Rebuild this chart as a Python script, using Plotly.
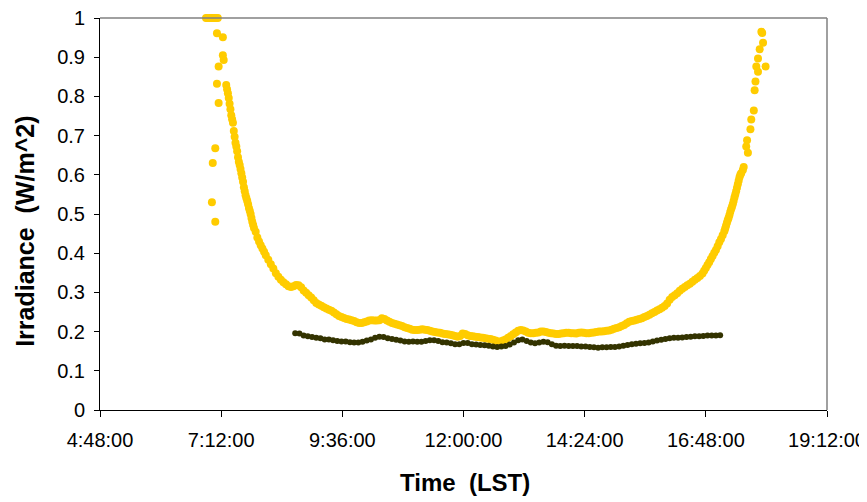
import plotly.graph_objects as go

# Time in minutes after midnight (LST), irradiance in W/m^2
yellow_min = [414, 416, 418, 420, 421, 422, 422, 424, 425, 425, 426, 427, 427, 428, 429, 429, 434, 434, 435,
              438, 439, 440, 441, 442, 443, 444, 445, 446, 447, 448, 449, 450, 451, 452, 453, 454, 455, 456, 457,
              458, 459, 460, 461, 462, 463, 464, 465, 466, 467, 468, 469, 470, 471, 473, 475, 477, 479, 481, 483,
              485, 488, 491, 494, 497, 500, 503, 506, 509, 512, 515, 518, 521, 524, 527, 530, 533, 536, 539, 542,
              545, 548, 551, 554, 557, 560, 563, 566, 569, 572, 575, 578, 581, 584, 587, 590, 593, 596, 599, 602,
              605, 608, 611, 614, 617, 620, 623, 626, 629, 632, 635, 638, 641, 644, 647, 650, 653, 656, 659, 662,
              665, 668, 671, 674, 677, 680, 683, 686, 689, 692, 695, 698, 701, 704, 707, 710, 713, 716, 719, 722,
              725, 728, 731, 734, 737, 740, 743, 746, 749, 752, 755, 758, 761, 764, 767, 770, 773, 776, 779, 782,
              785, 788, 791, 794, 797, 800, 803, 806, 809, 812, 815, 818, 821, 824, 827, 830, 833, 836, 839, 842,
              845, 848, 851, 854, 857, 860, 863, 866, 869, 872, 875, 878, 881, 884, 887, 890, 893, 896, 899, 902,
              905, 908, 911, 914, 917, 920, 923, 926, 929, 932, 935, 938, 941, 944, 947, 950, 953, 956, 959, 962,
              965, 968, 971, 974, 977, 980, 983, 986, 989, 992, 995, 998, 1001, 1004, 1006, 1008, 1010, 1012, 1014,
              1016, 1018, 1020, 1022, 1024, 1026, 1028, 1030, 1031, 1032, 1033, 1034, 1035, 1036, 1037, 1038, 1039,
              1040, 1041, 1042, 1043, 1044, 1045, 1046, 1047, 1048, 1049, 1050, 1052, 1053,
              1056, 1057, 1058, 1061, 1062, 1065, 1066, 1067, 1068, 1070, 1070, 1072, 1074, 1075, 1076, 1079]
yellow_val = [1.0, 1.0, 1.0, 1.0, 0.53, 1.0, 0.63, 1.0, 0.668, 0.48, 1.0, 0.961, 0.832, 1.0, 0.876, 0.783, 0.951, 0.905, 0.893,
              0.829, 0.818, 0.808, 0.796, 0.781, 0.767, 0.752, 0.742, 0.733, 0.712, 0.697, 0.682, 0.672, 0.66, 0.645, 0.633, 0.625, 0.615, 0.604, 0.593,
              0.582, 0.568, 0.558, 0.548, 0.54, 0.533, 0.525, 0.515, 0.508, 0.5, 0.49, 0.48, 0.472, 0.464, 0.455, 0.44, 0.43, 0.42, 0.412, 0.404,
              0.395, 0.383, 0.372, 0.361, 0.349, 0.34, 0.332, 0.326, 0.321, 0.316, 0.314, 0.316, 0.319, 0.318, 0.313, 0.305, 0.299, 0.293, 0.287, 0.28,
              0.273, 0.269, 0.266, 0.262, 0.259, 0.256, 0.253, 0.249, 0.244, 0.24, 0.237, 0.235, 0.232, 0.231, 0.229, 0.227, 0.224, 0.222, 0.222, 0.224,
              0.226, 0.228, 0.229, 0.228, 0.228, 0.229, 0.234, 0.232, 0.228, 0.225, 0.222, 0.22, 0.218, 0.216, 0.214, 0.211, 0.209, 0.207, 0.205, 0.204,
              0.204, 0.205, 0.206, 0.205, 0.204, 0.202, 0.2, 0.199, 0.198, 0.197, 0.195, 0.194, 0.193, 0.192, 0.191, 0.189, 0.187, 0.189, 0.195, 0.194,
              0.191, 0.189, 0.188, 0.187, 0.186, 0.185, 0.184, 0.183, 0.182, 0.181, 0.179, 0.177, 0.175, 0.175, 0.177, 0.18, 0.184, 0.188, 0.193, 0.198,
              0.202, 0.204, 0.203, 0.2, 0.197, 0.196, 0.196, 0.197, 0.198, 0.2, 0.2, 0.199, 0.197, 0.196, 0.195, 0.194, 0.194, 0.195, 0.196, 0.197,
              0.197, 0.196, 0.196, 0.195, 0.197, 0.198, 0.197, 0.196, 0.196, 0.197, 0.198, 0.199, 0.2, 0.2, 0.201, 0.202, 0.203, 0.205, 0.207, 0.209,
              0.211, 0.214, 0.217, 0.221, 0.225, 0.227, 0.228, 0.23, 0.232, 0.234, 0.237, 0.24, 0.243, 0.247, 0.25, 0.254, 0.257, 0.261, 0.265, 0.272,
              0.281, 0.288, 0.293, 0.298, 0.304, 0.309, 0.314, 0.318, 0.322, 0.327, 0.332, 0.337, 0.342, 0.348, 0.355, 0.362, 0.37, 0.377, 0.385,
              0.393, 0.401, 0.408, 0.418, 0.428, 0.436, 0.446, 0.456, 0.463, 0.47, 0.477, 0.484, 0.49, 0.497, 0.505, 0.512, 0.518,
              0.525, 0.533, 0.542, 0.55, 0.558, 0.567, 0.576, 0.585, 0.594, 0.6, 0.604, 0.612, 0.62,
              0.672, 0.688, 0.656, 0.716, 0.741, 0.764, 0.816, 0.838, 0.876, 0.863, 0.897, 0.92, 0.965, 0.962, 0.937, 0.876]

dark_min = list(range(520, 1030, 5))
dark_val = [0.196, 0.195, 0.19, 0.188, 0.186, 0.184, 0.183, 0.18, 0.18, 0.178, 0.176, 0.175, 0.175, 0.173, 0.172, 0.172,
            0.174, 0.177, 0.18, 0.184, 0.187, 0.186, 0.183, 0.181, 0.179, 0.177, 0.175, 0.174, 0.175, 0.174, 0.174, 0.176,
            0.178, 0.178, 0.176, 0.173, 0.172, 0.17, 0.168, 0.168, 0.171, 0.171, 0.168, 0.167, 0.166, 0.165, 0.164, 0.162,
            0.161, 0.162, 0.163, 0.167, 0.172, 0.178, 0.18, 0.176, 0.172, 0.17, 0.172, 0.174, 0.173, 0.168, 0.164, 0.163,
            0.164, 0.163, 0.163, 0.163, 0.162, 0.162, 0.161, 0.16, 0.159, 0.16, 0.16, 0.161, 0.161, 0.162, 0.164, 0.166,
            0.168, 0.169, 0.17, 0.171, 0.172, 0.175, 0.177, 0.179, 0.181, 0.183, 0.184, 0.184, 0.185, 0.186, 0.187, 0.188,
            0.188, 0.189, 0.19, 0.19, 0.19, 0.191]

x_tick_vals = [288, 432, 576, 720, 864, 1008, 1152]
x_tick_text = ["4:48:00", "7:12:00", "9:36:00", "12:00:00", "14:24:00", "16:48:00", "19:12:00"]
y_tick_vals = [0, 0.1, 0.2, 0.3, 0.4, 0.5, 0.6, 0.7, 0.8, 0.9, 1.0]
y_tick_text = ["0", "0.1", "0.2", "0.3", "0.4", "0.5", "0.6", "0.7", "0.8", "0.9", "1"]

fig = go.Figure()
fig.add_trace(go.Scatter(x=yellow_min, y=yellow_val, mode="markers",
                         marker=dict(color="#FFCC00", size=8, line=dict(width=0)),
                         cliponaxis=False, showlegend=False))
fig.add_trace(go.Scatter(x=dark_min[:len(dark_val)], y=dark_val, mode="markers",
                         marker=dict(color="#333300", size=6, line=dict(width=0)),
                         cliponaxis=False, showlegend=False))

font_family = "Liberation Sans, Arial, sans-serif"
# the page body adds an 8px margin, so the figure is sized to 859x494
fig.update_layout(
    width=859, height=494,
    margin=dict(l=92, r=40, t=10, b=92),
    paper_bgcolor="white", plot_bgcolor="white",
    font=dict(family=font_family, color="black"),
    xaxis=dict(range=[288, 1152], tickvals=x_tick_vals, ticktext=x_tick_text, automargin=False,
               showgrid=False, zeroline=False, showline=True, linecolor="black", linewidth=1,
               ticks="outside", ticklen=6, tickcolor="black", tickfont=dict(size=20),
               ticklabelstandoff=6, ticklabeloverflow="allow"),
    yaxis=dict(range=[0, 1], tickvals=y_tick_vals, ticktext=y_tick_text, automargin=False,
               showgrid=False, zeroline=False, showline=True, linecolor="black", linewidth=1,
               ticks="outside", ticklen=5, tickcolor="black", tickfont=dict(size=20),
               ticklabelstandoff=5, ticklabeloverflow="allow"),
    annotations=[
        dict(text="<b>Time  (LST)</b>", xref="paper", yref="paper", x=0.502, y=-0.186,
             xanchor="center", yanchor="middle", showarrow=False, font=dict(size=24)),
        dict(text="<b>Irradiance  (W/m^2)</b>", xref="paper", yref="paper", x=-0.1032, y=0.457,
             xanchor="center", yanchor="middle", textangle=-90, showarrow=False, font=dict(size=25)),
    ],
    shapes=[
        dict(type="line", xref="paper", yref="paper", x0=0, x1=1, y0=1, y1=1,
             line=dict(color="#808080", width=1.5)),
        dict(type="line", xref="paper", yref="paper", x0=1, x1=1, y0=0, y1=1,
             line=dict(color="#808080", width=1.5)),
    ],
)

fig.write_html("out.html")
